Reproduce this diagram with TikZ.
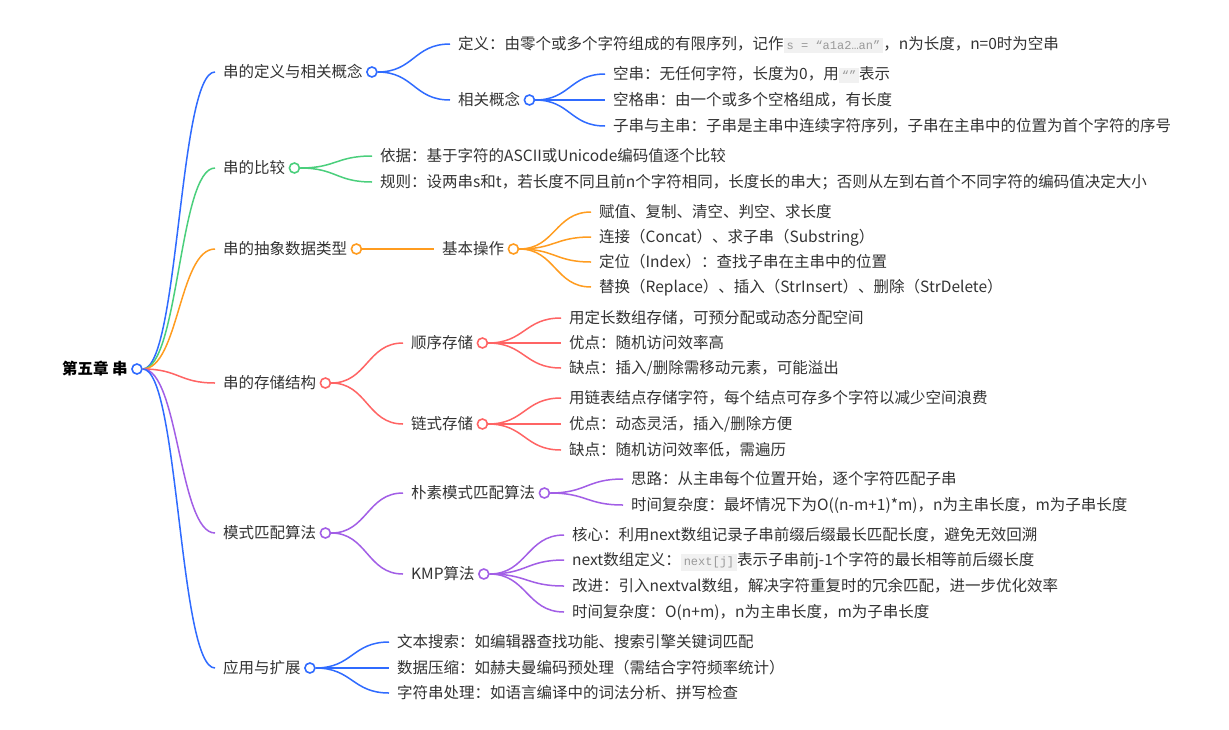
\documentclass[tikz,border=0pt]{standalone}
\usepackage{fontspec}
\setmainfont{Noto Sans CJK SC}
\newfontfamily\codefont{Liberation Mono}
\usetikzlibrary{calc}
\definecolor{cblue}{HTML}{2F6BFF}
\definecolor{cgreen}{HTML}{4ACF7C}
\definecolor{corange}{HTML}{FF9C1F}
\definecolor{cred}{HTML}{FF6464}
\definecolor{cpurple}{HTML}{A25EE6}
\definecolor{txtc}{HTML}{333333}
\definecolor{codebg}{HTML}{F1F1F1}
\definecolor{codefg}{HTML}{9A9A9A}
\newcommand\mmcode[1]{{\setlength\fboxsep{3pt}\colorbox{codebg}{\codefont\fontsize{12}{13}\selectfont\color{codefg}#1}}}
\newcommand\mmedge[3]{\draw[mmline=#1] let \p1=(#2.east), \p2=([xshift=-8pt]#3.west), \n1={(\x2-\x1)*0.5} in (\p1) .. controls +(\n1,0pt) and +(-\n1,0pt) .. (\p2);}
\tikzset{
  mmtxt/.style={anchor=west, inner sep=0pt, text height=12pt, text depth=0.5pt, font=\fontsize{15.5}{18}\selectfont, text=txtc},
  mmdot/.style={circle, draw=#1, fill=white, line width=1.6pt, minimum size=10pt, inner sep=0pt},
  mmline/.style={draw=#1, line width=1.5pt}
}
\begin{document}
\begin{tikzpicture}[x=1pt,y=-1pt]
\useasboundingbox (0,0) rectangle (1229,729);
\fill[white] (0,0) rectangle (1229,729);
% root
\node[mmtxt, text=black] (root) at (62,369) {\bfseries 第五章 串};
\node[mmdot=cblue] (rootc) at ([xshift=9pt]root.east) {};
% level 1
\node[mmtxt] (a1) at (223,72) {串的定义与相关概念};
\node[mmdot=cblue] (a1c) at ([xshift=9pt]a1.east) {};
\node[mmtxt] (a2) at (223,168) {串的比较};
\node[mmdot=cgreen] (a2c) at ([xshift=9pt]a2.east) {};
\node[mmtxt] (a3) at (223,249) {串的抽象数据类型};
\node[mmdot=corange] (a3c) at ([xshift=9pt]a3.east) {};
\node[mmtxt] (a4) at (223,383) {串的存储结构};
\node[mmdot=cred] (a4c) at ([xshift=9pt]a4.east) {};
\node[mmtxt] (a5) at (223,533) {模式匹配算法};
\node[mmdot=cpurple] (a5c) at ([xshift=9pt]a5.east) {};
\node[mmtxt] (a6) at (223,668) {应用与扩展};
\node[mmdot=cblue] (a6c) at ([xshift=9pt]a6.east) {};
% branch 1
\node[mmtxt] (b11) at (458,44) {定义：由零个或多个字符组成的有限序列，记作\mmcode{s = “a1a2…an”}，n为长度，n=0时为空串};
\node[mmtxt] (b12) at (458,100) {相关概念};
\node[mmdot=cblue] (b12c) at ([xshift=9pt]b12.east) {};
\node[mmtxt] (c121) at (613,74) {空串：无任何字符，长度为0，用\mmcode{“”}表示};
\node[mmtxt] (c122) at (613,100) {空格串：由一个或多个空格组成，有长度};
\node[mmtxt] (c123) at (613,126) {子串与主串：子串是主串中连续字符序列，子串在主串中的位置为首个字符的序号};
% branch 2
\node[mmtxt] (b21) at (380,156) {依据：基于字符的ASCII或Unicode编码值逐个比较};
\node[mmtxt] (b22) at (380,182) {规则：设两串s和t，若长度不同且前n个字符相同，长度长的串大；否则从左到右首个不同字符的编码值决定大小};
% branch 3
\node[mmtxt] (b31) at (442,249) {基本操作};
\node[mmdot=corange] (b31c) at ([xshift=9pt]b31.east) {};
\node[mmtxt] (c311) at (599,212) {赋值、复制、清空、判空、求长度};
\node[mmtxt] (c312) at (599,237) {连接（Concat）、求子串（Substring）};
\node[mmtxt] (c313) at (599,262) {定位（Index）：查找子串在主串中的位置};
\node[mmtxt] (c314) at (599,287) {替换（Replace）、插入（StrInsert）、删除（StrDelete）};
% branch 4
\node[mmtxt] (b41) at (411,343) {顺序存储};
\node[mmdot=cred] (b41c) at ([xshift=9pt]b41.east) {};
\node[mmtxt] (c411) at (569,318) {用定长数组存储，可预分配或动态分配空间};
\node[mmtxt] (c412) at (569,343) {优点：随机访问效率高};
\node[mmtxt] (c413) at (569,368) {缺点：插入/删除需移动元素，可能溢出};
\node[mmtxt] (b42) at (411,424) {链式存储};
\node[mmdot=cred] (b42c) at ([xshift=9pt]b42.east) {};
\node[mmtxt] (c421) at (569,398) {用链表结点存储字符，每个结点可存多个字符以减少空间浪费};
\node[mmtxt] (c422) at (569,424) {优点：动态灵活，插入/删除方便};
\node[mmtxt] (c423) at (569,450) {缺点：随机访问效率低，需遍历};
% branch 5
\node[mmtxt] (b51) at (411,493) {朴素模式匹配算法};
\node[mmdot=cpurple] (b51c) at ([xshift=9pt]b51.east) {};
\node[mmtxt] (c511) at (631,479) {思路：从主串每个位置开始，逐个字符匹配子串};
\node[mmtxt] (c512) at (631,505) {时间复杂度：最坏情况下为O((n-m+1)*m)，n为主串长度，m为子串长度};
\node[mmtxt] (b52) at (411,574) {KMP算法};
\node[mmdot=cpurple] (b52c) at ([xshift=9pt]b52.east) {};
\node[mmtxt] (c521) at (572,535) {核心：利用next数组记录子串前缀后缀最长匹配长度，避免无效回溯};
\node[mmtxt] (c522) at (572,560) {next数组定义：\mmcode{next[j]}表示子串前j-1个字符的最长相等前后缀长度};
\node[mmtxt] (c523) at (572,586) {改进：引入nextval数组，解决字符重复时的冗余匹配，进一步优化效率};
\node[mmtxt] (c524) at (572,612) {时间复杂度：O(n+m)，n为主串长度，m为子串长度};
% branch 6
\node[mmtxt] (b61) at (397,642) {文本搜索：如编辑器查找功能、搜索引擎关键词匹配};
\node[mmtxt] (b62) at (397,668) {数据压缩：如赫夫曼编码预处理（需结合字符频率统计）};
\node[mmtxt] (b63) at (397,693) {字符串处理：如语言编译中的词法分析、拼写检查};
% edges
\mmedge{cblue}{rootc}{a1}
\mmedge{cgreen}{rootc}{a2}
\mmedge{corange}{rootc}{a3}
\mmedge{cred}{rootc}{a4}
\mmedge{cpurple}{rootc}{a5}
\mmedge{cblue}{rootc}{a6}
\mmedge{cblue}{a1c}{b11}
\mmedge{cblue}{a1c}{b12}
\mmedge{cblue}{b12c}{c121}
\mmedge{cblue}{b12c}{c122}
\mmedge{cblue}{b12c}{c123}
\mmedge{cgreen}{a2c}{b21}
\mmedge{cgreen}{a2c}{b22}
\mmedge{corange}{a3c}{b31}
\mmedge{corange}{b31c}{c311}
\mmedge{corange}{b31c}{c312}
\mmedge{corange}{b31c}{c313}
\mmedge{corange}{b31c}{c314}
\mmedge{cred}{a4c}{b41}
\mmedge{cred}{a4c}{b42}
\mmedge{cred}{b41c}{c411}
\mmedge{cred}{b41c}{c412}
\mmedge{cred}{b41c}{c413}
\mmedge{cred}{b42c}{c421}
\mmedge{cred}{b42c}{c422}
\mmedge{cred}{b42c}{c423}
\mmedge{cpurple}{a5c}{b51}
\mmedge{cpurple}{a5c}{b52}
\mmedge{cpurple}{b51c}{c511}
\mmedge{cpurple}{b51c}{c512}
\mmedge{cpurple}{b52c}{c521}
\mmedge{cpurple}{b52c}{c522}
\mmedge{cpurple}{b52c}{c523}
\mmedge{cpurple}{b52c}{c524}
\mmedge{cblue}{a6c}{b61}
\mmedge{cblue}{a6c}{b62}
\mmedge{cblue}{a6c}{b63}
\end{tikzpicture}
\end{document}
